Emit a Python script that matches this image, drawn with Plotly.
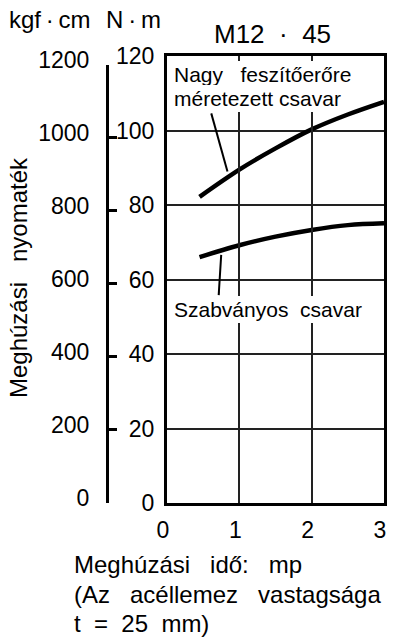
import plotly.graph_objects as go

# ---- data ----
time_s = [0.45, 1.0, 1.5, 2.0, 2.5, 3.0]
high_tension_nm = [82.2, 89.5, 95.2, 100.3, 104.3, 107.7]
standard_nm = [66.0, 69.2, 71.5, 73.3, 74.6, 75.1]
x_ticks = [0, 1, 2, 3]
nm_ticks = [0, 20, 40, 60, 80, 100, 120]
kgf_ticks = [0, 200, 400, 600, 800, 1000, 1200]
KGFCM_TO_NM = 0.0980665
NM_MAX = 120

# ---- layout geometry ----
W, H = 395, 637
L, R, T, B = 167, 8, 56, 134
PW, PH = W - L - R, H - T - B


def px_x(px):
    return (px - L) / PW


def px_y(py):
    return (T + PH - py) / PH


FONT = "Liberation Sans, Arial, Helvetica, sans-serif"
NB = "\u00a0"
TH = "\u2009"

fig = go.Figure()
fig.add_trace(go.Scatter(x=time_s, y=high_tension_nm, mode="lines",
                         line=dict(color="black", width=4.5, shape="spline"),
                         showlegend=False, hoverinfo="skip"))
fig.add_trace(go.Scatter(x=time_s, y=standard_nm, mode="lines",
                         line=dict(color="black", width=4.5, shape="spline"),
                         showlegend=False, hoverinfo="skip"))
# invisible trace carrying the kgf·cm axis
fig.add_trace(go.Scatter(x=[None], y=[None], xaxis="x", yaxis="y2",
                         showlegend=False, hoverinfo="skip"))

kgf_top = max(kgf_ticks)
fig.update_layout(
    width=W, height=H,
    margin=dict(l=L, r=R, t=T, b=B, pad=0),
    paper_bgcolor="white", plot_bgcolor="rgba(0,0,0,0)",
    font=dict(family=FONT, color="black", size=23),
    xaxis=dict(range=[0, 3], tickvals=x_ticks, ticks="", showgrid=True,
               gridcolor="#222", gridwidth=1.6, zeroline=False,
               showline=True, linecolor="black", linewidth=3, mirror=True,
               tickfont=dict(size=23), ticklabelstandoff=4, ticklabelshift=-4),
    yaxis=dict(range=[0, NM_MAX], tickvals=nm_ticks, ticks="", showgrid=True,
               gridcolor="#222", gridwidth=1.6, zeroline=False,
               showline=True, linecolor="black", linewidth=3, mirror=True,
               tickfont=dict(size=23), ticklabelstandoff=5),
    yaxis2=dict(domain=[0, kgf_top * KGFCM_TO_NM / NM_MAX], range=[0, kgf_top],
                tickvals=kgf_ticks, anchor="free", position=0, shift=-60,
                side="left", showgrid=False, zeroline=False,
                showline=True, linecolor="black", linewidth=3,
                ticks="inside", ticklen=8, tickwidth=2.5, tickcolor="black",
                tickfont=dict(size=23), ticklabelstandoff=12, ticklabelshift=-5),
)

ann = []
# unit labels and title
ann.append(dict(text="kgf" + TH + "·" + TH + "cm", x=px_x(48), y=px_y(19.5),
                xref="paper", yref="paper", showarrow=False, font=dict(size=24),
                xanchor="center", yanchor="middle"))
ann.append(dict(text="N" + TH + "·" + TH + "m", x=px_x(133), y=px_y(19.5),
                xref="paper", yref="paper", showarrow=False, font=dict(size=24),
                xanchor="center", yanchor="middle"))
ann.append(dict(text="M12" + NB * 2 + "·" + NB * 2 + "45", x=px_x(273.5), y=px_y(34),
                xref="paper", yref="paper", showarrow=False, font=dict(size=26),
                xanchor="center", yanchor="middle"))
# rotated y title
ann.append(dict(text="Meghúzási" + NB * 3 + "nyomaték", x=px_x(16), y=px_y(278),
                xref="paper", yref="paper", showarrow=False, textangle=-90,
                font=dict(size=24), xanchor="center", yanchor="middle"))
# bottom note, one annotation per line
note_lines = ["Meghúzási" + NB * 3 + "idő:" + NB * 3 + "mp",
              "(Az" + NB * 3 + "acéllemez" + NB * 3 + "vastagsága",
              "t" + NB * 2 + "=" + NB * 2 + "25" + NB * 2 + "mm)"]
for i, line in enumerate(note_lines):
    ann.append(dict(text=line, x=px_x(72), y=px_y(564.5 + 30 * i - (1 if i == 2 else 0)),
                    xref="paper", yref="paper", showarrow=False,
                    xanchor="left", yanchor="middle", borderpad=0,
                    font=dict(size=24)))
# curve labels
for txt, py in [("Nagy" + NB * 3 + "feszítőerőre", 74.0),
                ("méretezett" + NB + "csavar", 98.5)]:
    ann.append(dict(text=txt, x=px_x(172.5), y=px_y(py), xref="paper", yref="paper",
                    showarrow=False, xanchor="left", yanchor="middle", align="left",
                    bgcolor="white", borderpad=2, borderwidth=0, font=dict(size=21)))
ann.append(dict(text="Szabványos" + NB * 2 + "csavar", x=px_x(172.5), y=px_y(309.4),
                xref="paper", yref="paper", showarrow=False, xanchor="left",
                yanchor="middle", bgcolor="white", borderpad=2, borderwidth=0,
                font=dict(size=21)))
fig.update_layout(annotations=ann)

# leader lines (label -> curve)
leaders = [((0.612, 104.6), (0.836, 89.0)), ((0.715, 55.8), (0.749, 66.6))]
for (x0, y0), (x1, y1) in leaders:
    fig.add_shape(type="line", xref="x", yref="y", x0=x0, y0=y0, x1=x1, y1=y1,
                  line=dict(color="black", width=2), layer="above")

fig.write_html("out.html")
